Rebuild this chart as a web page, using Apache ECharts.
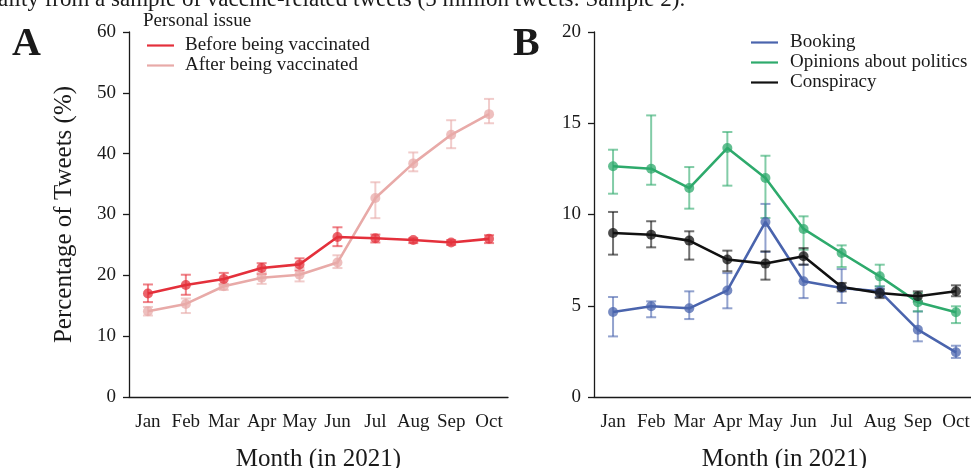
<!DOCTYPE html>
<html lang="en">
<head>
  <meta charset="UTF-8">
  <title>Tweets by month</title>
  <script src="https://cdn.jsdelivr.net/npm/echarts@6/dist/echarts.min.js"></script>
  <style>
    html, body { margin: 0; padding: 0; background: #fff; }
  </style>
</head>
<body>
  <div id="main" style="width: 971px;height:468px;"></div>
  <script>
    // month labels (shared by both panels)
    const months = ['Jan', 'Feb', 'Mar', 'Apr', 'May', 'Jun', 'Jul', 'Aug', 'Sep', 'Oct'];

    // panel A: personal issue
    const beforeMean = [17.0, 18.4, 19.4, 21.2, 21.8, 26.3, 26.1, 25.8, 25.4, 26.0];
    const beforeLow  = [15.6, 16.8, 18.5, 20.2, 20.8, 24.8, 25.4, 25.3, 25.0, 25.3];
    const beforeHigh = [18.5, 20.1, 20.4, 22.0, 22.8, 27.9, 26.7, 26.1, 25.8, 26.6];

    const afterMean = [14.1, 15.3, 18.2, 19.6, 20.1, 22.1, 32.7, 38.4, 43.1, 46.5];
    const afterLow  = [13.4, 13.8, 17.6, 18.6, 19.0, 21.2, 29.4, 37.1, 40.9, 45.0];
    const afterHigh = [14.8, 16.2, 18.6, 20.5, 21.2, 23.3, 35.3, 40.2, 45.5, 49.0];

    // panel B
    const bookingMean = [4.66, 4.97, 4.86, 5.84, 9.59, 6.34, 5.97, 5.79, 3.69, 2.45];
    const bookingLow  = [3.32, 4.37, 4.27, 4.86, 7.95, 5.42, 5.15, 5.48, 3.05, 2.14];
    const bookingHigh = [5.48, 5.24, 5.79, 6.79, 10.58, 7.25, 7.01, 6.06, 4.69, 2.81];

    const politicsMean = [12.64, 12.51, 11.45, 13.64, 12.0, 9.21, 7.89, 6.61, 5.19, 4.64];
    const politicsLow  = [11.14, 11.63, 10.32, 11.58, 9.81, 8.07, 7.12, 6.06, 4.69, 4.05];
    const politicsHigh = [13.55, 15.43, 12.60, 14.52, 13.22, 9.90, 8.31, 7.25, 5.70, 4.97];

    const conspiracyMean = [8.99, 8.89, 8.57, 7.53, 7.31, 7.71, 6.03, 5.70, 5.52, 5.79];
    const conspiracyLow  = [7.80, 8.20, 7.53, 6.89, 6.43, 7.25, 5.79, 5.42, 5.24, 5.52];
    const conspiracyHigh = [10.14, 9.63, 9.08, 8.02, 7.98, 8.16, 6.25, 5.92, 5.79, 6.12];

    const serif = 'Liberation Serif';
    const ink = '#1a1a1a';

    const myChart = echarts.init(document.getElementById('main'));

    function errorBars(name, color, lows, highs, axisIndex) {
      return {
        name: name + ' err',
        type: 'custom',
        xAxisIndex: axisIndex,
        yAxisIndex: axisIndex,
        z: 1,
        silent: true,
        data: months.map((m, i) => [m, lows[i], highs[i]]),
        renderItem: function (params, api) {
          const x = api.value(0);
          const top = api.coord([x, api.value(2)]);
          const bot = api.coord([x, api.value(1)]);
          const cap = 5;
          const style = { stroke: color, lineWidth: 2, opacity: 0.6 };
          return {
            type: 'group',
            children: [
              { type: 'line', shape: { x1: top[0], y1: top[1], x2: bot[0], y2: bot[1] }, style: style },
              { type: 'line', shape: { x1: top[0] - cap, y1: top[1], x2: top[0] + cap, y2: top[1] }, style: style },
              { type: 'line', shape: { x1: bot[0] - cap, y1: bot[1], x2: bot[0] + cap, y2: bot[1] }, style: style }
            ]
          };
        }
      };
    }

    function meanLine(name, color, values, axisIndex) {
      return {
        name: name,
        type: 'line',
        xAxisIndex: axisIndex,
        yAxisIndex: axisIndex,
        z: 2,
        data: values,
        symbol: 'circle',
        symbolSize: 10,
        lineStyle: { color: color, width: 2.6 },
        itemStyle: { color: color, opacity: 0.75 },
        emphasis: { disabled: true },
        animation: false
      };
    }

    const xAxisBase = {
      type: 'category',
      data: months,
      boundaryGap: true,
      axisLine: { lineStyle: { color: ink, width: 1.3 } },
      axisTick: { alignWithLabel: true, length: 7, lineStyle: { color: ink, width: 1.3 } },
      axisLabel: { interval: 0, color: ink, fontFamily: serif, fontSize: 19, margin: 16, hideOverlap: false },
      name: 'Month (in 2021)',
      nameLocation: 'middle',
      nameGap: 50,
      nameTextStyle: { color: ink, fontFamily: serif, fontSize: 25 }
    };

    const yAxisBase = {
      type: 'value',
      splitLine: { show: false },
      axisLine: { show: true, lineStyle: { color: ink, width: 1.3 } },
      axisTick: { show: true, length: 6, lineStyle: { color: ink, width: 1.3 } },
      axisLabel: { color: ink, fontFamily: serif, fontSize: 19, margin: 13 }
    };

    const options = {
      animation: false,
      textStyle: { fontFamily: serif },
      grid: [
        { left: 129, top: 32, width: 379, height: 365, outerBoundsMode: 'none', containLabel: false },
        { left: 594, top: 32, width: 381, height: 365, outerBoundsMode: 'none', containLabel: false }
      ],
      xAxis: [
        Object.assign({ gridIndex: 0 }, xAxisBase),
        Object.assign({ gridIndex: 1 }, xAxisBase)
      ],
      yAxis: [
        Object.assign({}, yAxisBase, {
          gridIndex: 0, min: 0, max: 60, interval: 10,
          name: 'Percentage of Tweets (%)',
          nameLocation: 'middle',
          nameGap: 52,
          nameTextStyle: { color: ink, fontFamily: serif, fontSize: 25 }
        }),
        Object.assign({}, yAxisBase, { gridIndex: 1, min: 0, max: 20, interval: 5 })
      ],
      legend: [
        {
          data: ['Before being vaccinated', 'After being vaccinated'],
          orient: 'vertical',
          left: 142, top: 31,
          icon: 'rect', itemWidth: 27, itemHeight: 2.2, itemGap: 1,
          itemStyle: { opacity: 1 },
          textStyle: { color: ink, fontFamily: serif, fontSize: 19, lineHeight: 19, padding: [0, 0, 0, 6] },
          selectedMode: false
        },
        {
          data: ['Booking', 'Opinions about politics', 'Conspiracy'],
          orient: 'vertical',
          left: 746, top: 28,
          icon: 'rect', itemWidth: 27, itemHeight: 2.2, itemGap: 1,
          itemStyle: { opacity: 1 },
          textStyle: { color: ink, fontFamily: serif, fontSize: 19, lineHeight: 19, padding: [0, 0, 0, 7] },
          selectedMode: false
        }
      ],
      graphic: [
        { type: 'text', left: -2, top: -12, style: { text: 'ality from a sample of vaccine-related tweets (5 million tweets: Sample 2).', font: '23px "Liberation Serif"', fill: ink } },
        { type: 'text', left: 12, top: 25, style: { text: 'A', font: 'bold 40px "Liberation Serif"', fill: ink } },
        { type: 'text', left: 513, top: 25, style: { text: 'B', font: 'bold 40px "Liberation Serif"', fill: ink } },
        { type: 'text', left: 143, top: 12, style: { text: 'Personal issue', font: '19px "Liberation Serif"', fill: ink } }
      ],
      series: [
        errorBars('Before being vaccinated', '#e4303b', beforeLow, beforeHigh, 0),
        errorBars('After being vaccinated', '#e8aaa8', afterLow, afterHigh, 0),
        meanLine('After being vaccinated', '#e8aaa8', afterMean, 0),
        meanLine('Before being vaccinated', '#e4303b', beforeMean, 0),

        errorBars('Booking', '#4a64ad', bookingLow, bookingHigh, 1),
        errorBars('Opinions about politics', '#2eaa6c', politicsLow, politicsHigh, 1),
        errorBars('Conspiracy', '#111111', conspiracyLow, conspiracyHigh, 1),
        meanLine('Booking', '#4a64ad', bookingMean, 1),
        meanLine('Opinions about politics', '#2eaa6c', politicsMean, 1),
        meanLine('Conspiracy', '#111111', conspiracyMean, 1)
      ]
    };

    myChart.setOption(options);
  </script>
</body>
</html>
